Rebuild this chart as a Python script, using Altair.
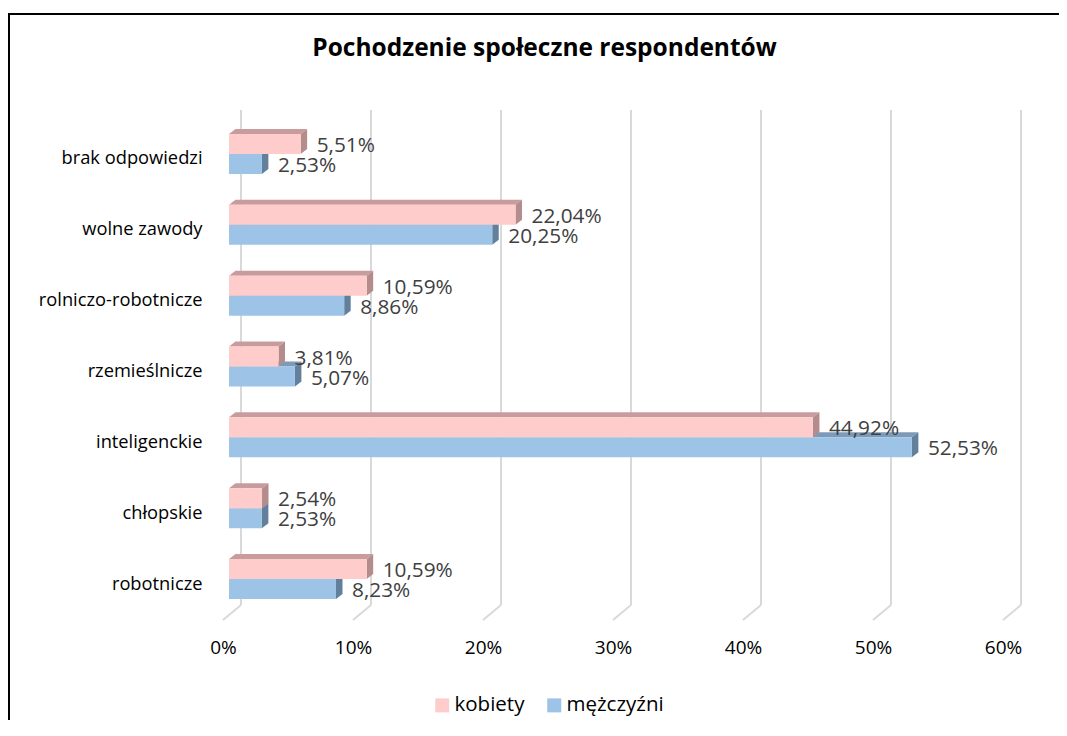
import json
import altair as alt
import pandas as pd

# ---- data ----
categories = ["brak odpowiedzi", "wolne zawody", "rolniczo-robotnicze",
              "rzemieślnicze", "inteligenckie", "chłopskie", "robotnicze"]
series = ["kobiety", "mężczyźni"]
kobiety = [5.51, 22.04, 10.59, 3.81, 44.92, 2.54, 10.59]
mezczyzni = [2.53, 20.25, 8.86, 5.07, 52.53, 2.53, 8.23]
x_ticks = [0, 10, 20, 30, 40, 50, 60]
title_text = "Pochodzenie społeczne respondentów"

# ---- styles ----
front_colors = ["#FFCCCC", "#9DC3E6"]
top_colors = ["#C89C9C", "#7D9BB9"]
side_colors = ["#B58C8C", "#627F9B"]
grid_color = "#D9D9D9"
FONT = "Open Sans"

W, H = 780, 513
PAD = {"left": 221, "top": 102, "right": 50, "bottom": 97}
X_MAX = 60
Y_LO, Y_HI = -0.62, 6.62
px_x = W / X_MAX
px_y = H / (Y_HI - Y_LO)
BAR = 20 / px_y      # bar thickness in category units
DX = 6.5 / px_x      # 3D depth, horizontal
DY = 5 / px_y        # 3D depth, vertical

xscale = alt.Scale(domain=[0, X_MAX], nice=False, zero=False)
yscale = alt.Scale(domain=[Y_LO, Y_HI], reverse=True, nice=False, zero=False)

values = [kobiety, mezczyzni]

front_rows, top_rows, side_rows = [], [], []
for j, s in enumerate(series):
    for i, c in enumerate(categories):
        v = values[j][i]
        y1 = i - BAR if j == 0 else i
        y2 = y1 + BAR
        lab = f"{v:.2f}".replace(".", ",") + "%"
        front_rows.append(dict(series=s, j=j, cat=c, value=v, zero=0.0,
                               y1=y1, y2=y2, ymid=(y1 + y2) / 2, label=lab))
        pid = f"{j}-{i}"
        top_rows.append(dict(id=pid, j=j, yy=y1, xa=0.0, xb=v))
        top_rows.append(dict(id=pid, j=j, yy=y1 - DY, xa=DX, xb=v + DX))
        side_rows.append(dict(id=pid, j=j, xx=v, ya=y1, yb=y2))
        side_rows.append(dict(id=pid, j=j, xx=v + DX, ya=y1 - DY, yb=y2 - DY))

front_df = pd.DataFrame(front_rows)
top_df = pd.DataFrame(top_rows)
side_df = pd.DataFrame(side_rows)
tick_df = pd.DataFrame({"t": x_ticks})

color_scale = alt.Scale(domain=series, range=front_colors)
legend = alt.Legend(orient="none", legendX=203, legendY=585, direction="horizontal",
                    title=None, symbolType="square", symbolSize=196,
                    symbolStrokeWidth=0, symbolOpacity=1, labelFont=FONT,
                    labelFontSize=20.5, labelColor="#000000", labelOffset=2,
                    columnPadding=19)

x_axis = alt.Axis(values=x_ticks, labelExpr="datum.value + '%'", grid=False,
                  domain=False, ticks=False, tickSize=0, labelPadding=24,
                  labelBaseline="middle", labelOffset=-6, labelFlush=False,
                  labelOverlap=False, labelFont=FONT, labelFontSize=19,
                  labelColor="#000000", title=None)
y_axis = alt.Axis(values=list(range(len(categories))),
                  labelExpr=json.dumps(categories, ensure_ascii=False) + "[datum.value]",
                  grid=False, domain=False, ticks=False, tickSize=0,
                  labelPadding=27, labelOffset=5, labelFlush=False,
                  labelOverlap=False, labelFont=FONT,
                  labelFontSize=18.3, labelColor="#000000", title=None)


def X(field):
    return alt.X(field, scale=xscale, axis=x_axis)


def Y(field):
    return alt.Y(field, scale=yscale, axis=y_axis)


# chart-area border (top and left edges; the others lie beyond the picture)
one = pd.DataFrame({"k": [0]})
right_edge = W + PAD["right"]
bottom_edge = H + PAD["bottom"]
border_top = alt.Chart(one).mark_rule(color="#000000", strokeWidth=2).encode(
    x=alt.value(-221), x2=alt.value(right_edge), y=alt.value(-96))
border_left = alt.Chart(one).mark_rule(color="#000000", strokeWidth=2).encode(
    x=alt.value(-220), y=alt.value(-97), y2=alt.value(bottom_edge))

# 3D-style gridlines
grid_v = alt.Chart(tick_df).mark_rule(color=grid_color, strokeWidth=2, xOffset=12).encode(
    x=X("t:Q"), y=alt.value(0), y2=alt.value(495))
grid_d = alt.Chart(tick_df).mark_rule(color=grid_color, strokeWidth=2,
                                      xOffset=12, x2Offset=-6).encode(
    x=X("t:Q"), x2="t:Q", y=alt.value(495), y2=alt.value(510))


def bar_layers(j):
    tops = alt.Chart(top_df[top_df.j == j]).mark_area(
        orient="horizontal", color=top_colors[j]).encode(
        y=Y("yy:Q"),
        x=alt.X("xa:Q", scale=xscale, axis=x_axis, stack=False),
        x2="xb:Q",
        detail="id:N")
    sides = alt.Chart(side_df[side_df.j == j]).mark_area(
        orient="vertical", color=side_colors[j]).encode(
        x=X("xx:Q"),
        y=alt.Y("ya:Q", scale=yscale, axis=y_axis, stack=False),
        y2="yb:Q",
        detail="id:N")
    front = alt.Chart(front_df[front_df.j == j]).mark_rect().encode(
        x=X("zero:Q"), x2="value:Q",
        y=Y("y1:Q"), y2="y2:Q",
        color=alt.Color("series:N", scale=color_scale, legend=legend))
    return [tops, sides, front]


labels = alt.Chart(front_df).mark_text(
    align="left", baseline="middle", dx=16, dy=2, font=FONT, fontSize=20.8,
    color="#404040").encode(
    x=X("value:Q"), y=Y("ymid:Q"), text="label:N")

layers = [border_top, border_left, grid_v, grid_d] + bar_layers(1) + bar_layers(0) + [labels]

chart = alt.layer(*layers).properties(
    width=W, height=H,
    title=alt.TitleParams(title_text, font=FONT, fontSize=24.5, fontWeight="bold",
                          color="#000000", anchor="middle", frame="group",
                          dx=-74.5, baseline="alphabetic", offset=-68),
    autosize=alt.AutoSizeParams(type="none"),
    padding=PAD,
    background="#FFFFFF",
).configure_view(stroke=None)

chart.save("out.html", embed_options={"renderer": "svg", "actions": False})
